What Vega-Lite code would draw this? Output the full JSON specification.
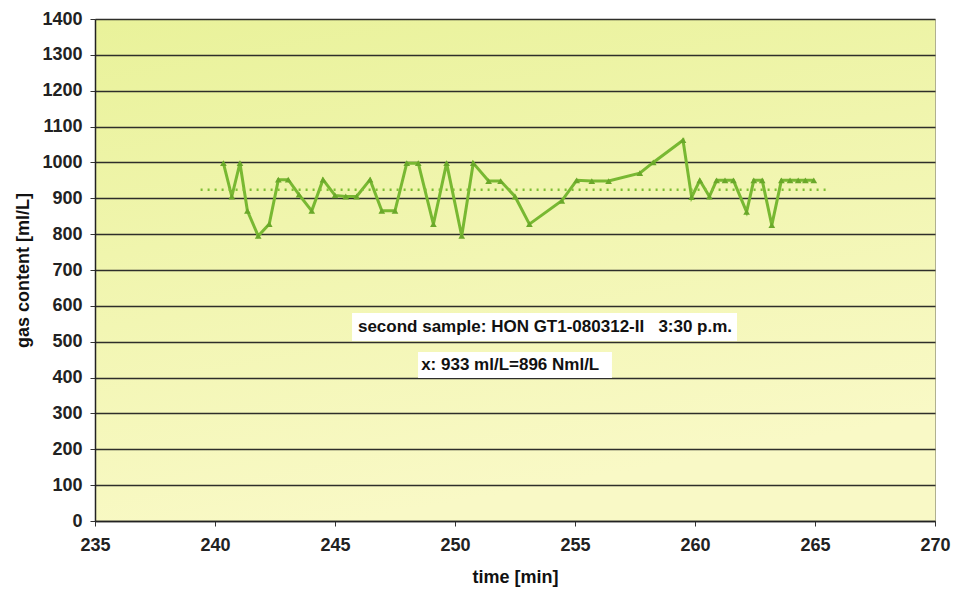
{
  "$schema": "https://vega.github.io/schema/vega-lite/v6.json",
  "width": 840,
  "height": 502,
  "autosize": {"type": "none"},
  "padding": {"left": 95, "top": 19, "right": 18, "bottom": 77},
  "background": "white",
  "config": {
    "view": {
      "fill": {"gradient": "linear", "x1": 0, "y1": 0, "x2": 0.3, "y2": 1, "stops": [{"offset": 0, "color": "#e9f29a"}, {"offset": 1, "color": "#f9f9c6"}]},
      "stroke": "#b0b090",
      "strokeWidth": 1
    },
    "font": "Liberation Sans"
  },
  "datasets": {
    "series": [
      {"time": 240.35, "gas": 998},
      {"time": 240.7, "gas": 905},
      {"time": 241.04, "gas": 998},
      {"time": 241.35, "gas": 865},
      {"time": 241.8, "gas": 795},
      {"time": 242.26, "gas": 828},
      {"time": 242.64, "gas": 952},
      {"time": 243.05, "gas": 952},
      {"time": 243.5, "gas": 910},
      {"time": 244.03, "gas": 865},
      {"time": 244.5, "gas": 952},
      {"time": 245.0, "gas": 908},
      {"time": 245.45, "gas": 905},
      {"time": 245.9, "gas": 905},
      {"time": 246.46, "gas": 952},
      {"time": 246.95, "gas": 865},
      {"time": 247.5, "gas": 865},
      {"time": 247.99, "gas": 998},
      {"time": 248.47, "gas": 998},
      {"time": 249.1, "gas": 828},
      {"time": 249.65, "gas": 998},
      {"time": 250.28, "gas": 795},
      {"time": 250.76, "gas": 998},
      {"time": 251.4, "gas": 948},
      {"time": 251.9, "gas": 948},
      {"time": 252.5, "gas": 905},
      {"time": 253.1, "gas": 828},
      {"time": 254.45, "gas": 893},
      {"time": 255.07, "gas": 950},
      {"time": 255.7, "gas": 948},
      {"time": 256.4, "gas": 948},
      {"time": 257.7, "gas": 970},
      {"time": 258.26, "gas": 1000},
      {"time": 259.5, "gas": 1062},
      {"time": 259.86, "gas": 903},
      {"time": 260.2, "gas": 950},
      {"time": 260.6, "gas": 905},
      {"time": 260.9, "gas": 950},
      {"time": 261.25, "gas": 950},
      {"time": 261.6, "gas": 950},
      {"time": 262.15, "gas": 862},
      {"time": 262.45, "gas": 950},
      {"time": 262.8, "gas": 950},
      {"time": 263.2, "gas": 825},
      {"time": 263.6, "gas": 950},
      {"time": 263.96, "gas": 950},
      {"time": 264.3, "gas": 950},
      {"time": 264.6, "gas": 950},
      {"time": 264.95, "gas": 950}
    ],
    "mean": [
      {"time": 239.4, "gas": 924},
      {"time": 265.5, "gas": 924}
    ],
    "boxes": [
      {"time": 245.71, "time2": 261.75, "gas": 502, "gas2": 580},
      {"time": 248.46, "time2": 256.54, "gas": 399, "gas2": 471}
    ],
    "notes": [
      {"time": 253.75, "gas": 541, "label": "second sample: HON GT1-080312-II\u00a0\u00a0 3:30 p.m."},
      {"time": 252.3, "gas": 435, "label": "x: 933 ml/L=896 Nml/L"}
    ]
  },
  "encoding": {
    "x": {
      "field": "time", "type": "quantitative",
      "scale": {"domain": [235, 270], "nice": false},
      "axis": {
        "title": "time [min]", "titleFontSize": 18, "titleFontWeight": "bold", "titleColor": "#111", "titlePadding": 14,
        "values": [235, 240, 245, 250, 255, 260, 265, 270],
        "labelFontSize": 18, "labelFontWeight": "bold", "labelColor": "#222", "labelPadding": 10,
        "labelFlush": false, "labelOverlap": false,
        "tickSize": 5, "tickColor": "#333", "domainColor": "#222", "domainWidth": 1.5,
        "grid": false
      }
    },
    "y": {
      "field": "gas", "type": "quantitative",
      "scale": {"domain": [0, 1400], "nice": false},
      "axis": {
        "title": "gas content  [ml/L]", "titleFontSize": 18, "titleFontWeight": "bold", "titleColor": "#111", "titlePadding": 9,
        "values": [0, 100, 200, 300, 400, 500, 600, 700, 800, 900, 1000, 1100, 1200, 1300, 1400],
        "format": "d",
        "labelFontSize": 18, "labelFontWeight": "bold", "labelColor": "#222", "labelPadding": 8,
        "labelFlush": false, "labelOverlap": false,
        "tickSize": 5, "tickColor": "#333", "domainColor": "#222", "domainWidth": 1.5,
        "grid": true, "gridColor": "#2e2e2a", "gridWidth": 1.4
      }
    }
  },
  "layer": [
    {
      "data": {"name": "series"},
      "mark": {"type": "line", "color": "#78b832", "strokeWidth": 3, "point": {"shape": "triangle-up", "size": 45, "filled": true, "color": "#6aa82a"}}
    },
    {
      "data": {"name": "mean"},
      "mark": {"type": "line", "color": "#7fbf35", "strokeWidth": 2.4, "strokeDash": [2, 5]}
    },
    {
      "data": {"name": "boxes"},
      "mark": {"type": "rect", "fill": "white", "strokeWidth": 0},
      "encoding": {
        "x2": {"field": "time2"},
        "y2": {"field": "gas2"}
      }
    },
    {
      "data": {"name": "notes"},
      "mark": {"type": "text", "fontSize": 17, "fontWeight": "bold", "color": "#111", "align": "center", "baseline": "middle"},
      "encoding": {
        "text": {"field": "label"}
      }
    }
  ]
}
